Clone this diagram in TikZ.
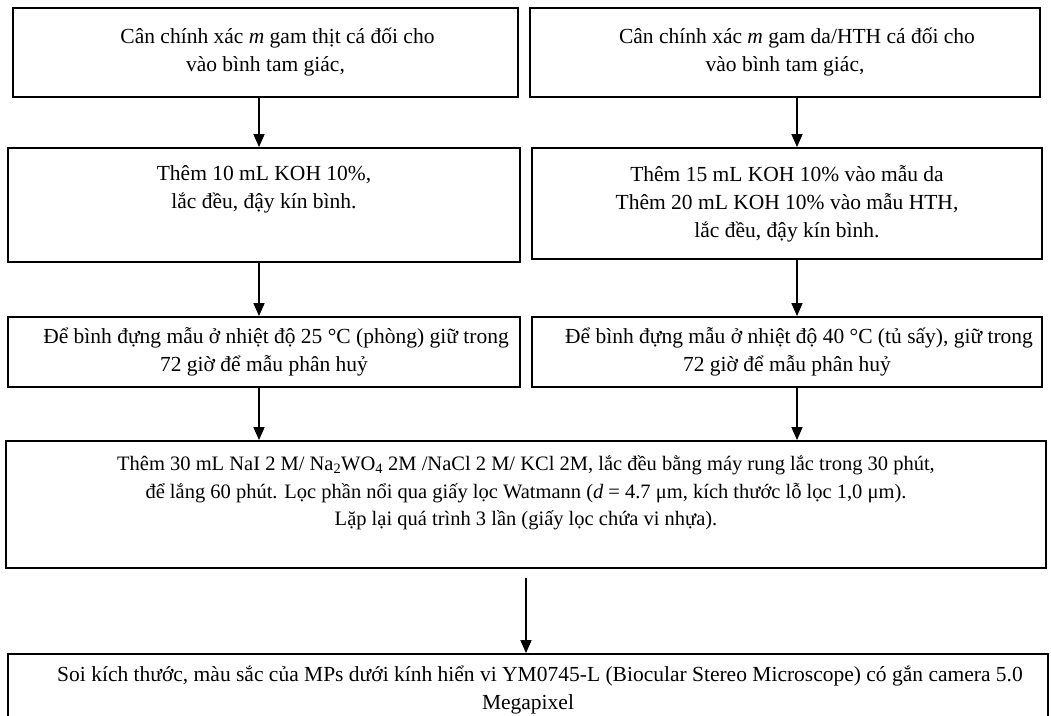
\documentclass[tikz,border=0pt]{standalone}
\usepackage{fontspec}
\setmainfont{Liberation Serif}
\usetikzlibrary{arrows.meta,positioning}
\tikzset{
  buoc/.style={draw, line width=1.8pt, align=center, inner sep=0pt, font=\fontsize{21.5}{28}\selectfont},
  muiten/.style={line width=1.5pt, -{Triangle[length=13pt,width=11pt]}}
}
\begin{document}
\begin{tikzpicture}[x=1pt,y=-1pt]
\useasboundingbox[fill=white] (0,0) rectangle (1051,715);
\coordinate (cotL) at (259,0);
\coordinate (cotR) at (797,0);
\coordinate (cotG) at (526,0);
% left column
\node[buoc, minimum width=505pt, minimum height=89pt] (L1) at (265.5,52.5) {\hspace*{24pt}Cân chính xác \textit{m} gam thịt cá đối cho\\vào bình tam giác,};
\node[buoc, minimum width=512pt, minimum height=114pt] (L2) at (264,205) {Thêm 10 mL KOH 10\%,\\lắc đều, đậy kín bình.\\\strut};
\node[buoc, minimum width=512pt, minimum height=70pt] (L3) at (264,352) {\hspace*{24pt}Để bình đựng mẫu ở nhiệt độ 25 °C (phòng) giữ trong\\72 giờ để mẫu phân huỷ};
% right column
\node[buoc, minimum width=510pt, minimum height=89pt] (R1) at (785,52.5) {\hspace*{24pt}Cân chính xác \textit{m} gam da/HTH cá đối cho\\vào bình tam giác,};
\node[buoc, minimum width=510pt, minimum height=111pt] (R2) at (787,203.5) {Thêm 15 mL KOH 10\% vào mẫu da\\Thêm 20 mL KOH 10\% vào mẫu HTH,\\lắc đều, đậy kín bình.};
\node[buoc, minimum width=510pt, minimum height=70pt] (R3) at (787,352) {\hspace*{24pt}Để bình đựng mẫu ở nhiệt độ 40 °C (tủ sấy), giữ trong\\72 giờ để mẫu phân huỷ};
% common steps
\node[buoc, font=\fontsize{20.5}{27.5}\selectfont, minimum width=1040pt, minimum height=127pt] (B4) at (526,504.5) {Thêm 30 mL NaI 2 M/ Na\textsubscript{2}WO\textsubscript{4} 2M /NaCl 2 M/ KCl 2M, lắc đều bằng máy rung lắc trong 30 phút,\\để lắng 60 phút. Lọc phần nổi qua giấy lọc Watmann (\textit{d} = 4.7 μm, kích thước lỗ lọc 1,0 μm).\\Lặp lại quá trình 3 lần (giấy lọc chứa vi nhựa).\\[-8pt]\strut};
\node[buoc, minimum width=1040pt, minimum height=72pt] (B5) at (528,690) {\hspace*{24pt}Soi kích thước, màu sắc của MPs dưới kính hiển vi YM0745-L (Biocular Stereo Microscope) có gắn camera 5.0\\Megapixel};
% arrows
\draw[muiten] (L1.south -| cotL) -- (L2.north -| cotL);
\draw[muiten] (L2.south -| cotL) -- (L3.north -| cotL);
\draw[muiten] (L3.south -| cotL) -- (B4.north -| cotL);
\draw[muiten] (R1.south -| cotR) -- (R2.north -| cotR);
\draw[muiten] (R2.south -| cotR) -- (R3.north -| cotR);
\draw[muiten] (R3.south -| cotR) -- (B4.north -| cotR);
\draw[muiten, shorten <=9pt] (B4.south -| cotG) -- (B5.north -| cotG);
\end{tikzpicture}
\end{document}
